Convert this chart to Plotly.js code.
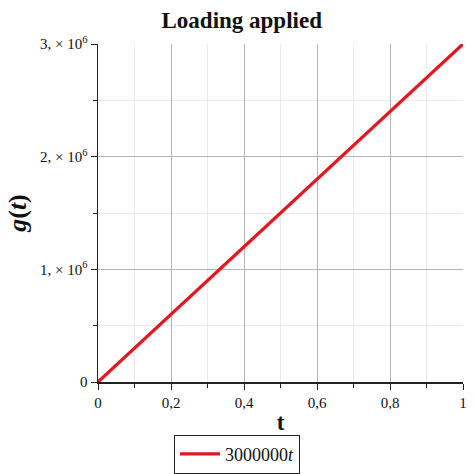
<!DOCTYPE html>
<html>
<head>
<meta charset="utf-8">
<script src="https://cdn.plot.ly/plotly-3.0.1.min.js"></script>
<style>html,body{margin:0;padding:0;background:#fff;}#chart{width:474px;height:474px;}</style>
</head>
<body>
<div id="chart"></div>
<script>
// data
const tValues = [0, 1];
const gValues = [0, 3000000];
const seriesName = "3000000<i>t</i>";
const xTickVals = [0, 0.2, 0.4, 0.6, 0.8, 1];
const xTickText = ["0", "0,2", "0,4", "0,6", "0,8", "1"];
const yTickVals = [0, 1000000, 2000000, 3000000];
const yTickText = ["0", "1, × 10<sup>6</sup>", "2, × 10<sup>6</sup>", "3, × 10<sup>6</sup>"];

const serif = "Liberation Serif";

const trace = {
  x: tValues, y: gValues, type: "scatter", mode: "lines",
  name: seriesName,
  line: {color: "#e3171f", width: 3.2}
};

const axisCommon = {
  showline: true, linecolor: "#222", linewidth: 1.5,
  ticks: "outside", ticklen: 6, tickcolor: "#222", tickwidth: 1,
  showgrid: true, gridcolor: "#b4b4b4", gridwidth: 1,
  zeroline: false, automargin: false,
  tickfont: {family: serif, size: 15, color: "#111"},
  tickmode: "array"
};

const layout = {
  width: 474, height: 474,
  margin: {l: 98, r: 11, t: 44, b: 92},
  paper_bgcolor: "#fff", plot_bgcolor: "#fff",
  font: {family: serif},
  title: {text: "<b>Loading applied</b>", font: {family: serif, size: 23, color: "#111"},
          x: 0.51, xanchor: "center", y: 0.958, yanchor: "middle"},
  xaxis: Object.assign({}, axisCommon, {
    range: [0, 1], tickvals: xTickVals, ticktext: xTickText,
    minor: {tickmode: "linear", tick0: 0, dtick: 0.1, ticks: "outside", ticklen: 4,
            tickcolor: "#222", showgrid: true, gridcolor: "#ebebeb", gridwidth: 1},
    title: {text: "<b>t</b>", font: {family: serif, size: 23, color: "#111"}, standoff: 14}
  }),
  yaxis: Object.assign({}, axisCommon, {
    range: [0, 3000000], tickvals: yTickVals, ticktext: yTickText,
    minor: {tickmode: "linear", tick0: 0, dtick: 500000, ticks: "outside", ticklen: 4,
            tickcolor: "#222", showgrid: true, gridcolor: "#ebebeb", gridwidth: 1},
    title: {text: "<b><i>g</i>(<i>t</i>)</b>", font: {family: serif, size: 26, color: "#111"}, standoff: 6}
  }),
  showlegend: true,
  legend: {orientation: "h", xref: "container", yref: "container",
           x: 0.367, xanchor: "left", y: 0.083, yanchor: "top",
           itemwidth: 40,
           bordercolor: "#222", borderwidth: 1, bgcolor: "#fff",
           font: {family: serif, size: 18, color: "#111"}}
};

Plotly.newPlot("chart", [trace], layout, {displayModeBar: false, staticPlot: true});
</script>
</body>
</html>
